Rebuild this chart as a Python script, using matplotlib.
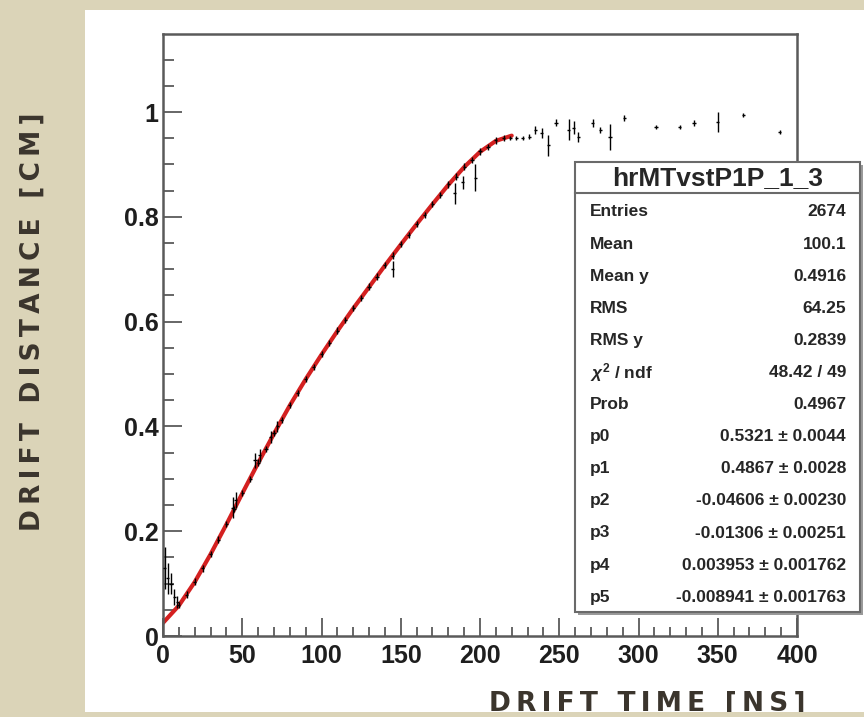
import matplotlib
matplotlib.use("Agg")
import matplotlib.pyplot as plt
from matplotlib.patches import Rectangle
from matplotlib.ticker import MultipleLocator

# profile points along the fitted region (drift time ns, drift distance cm, error)
t_main = [10, 15, 20, 25, 30, 35, 40, 45, 50, 55, 60, 65, 70, 75, 80, 85, 90, 95,
          100, 105, 110, 115, 120, 125, 130, 135, 140, 145, 150, 155, 160, 165,
          170, 175, 180, 185, 190, 195, 200, 205, 210, 215]
d_main = [0.059, 0.079, 0.104, 0.129, 0.157, 0.184, 0.214, 0.242, 0.273, 0.300,
          0.331, 0.357, 0.387, 0.412, 0.441, 0.464, 0.491, 0.513, 0.538, 0.559,
          0.583, 0.603, 0.626, 0.645, 0.667, 0.686, 0.708, 0.726, 0.748, 0.765,
          0.787, 0.804, 0.825, 0.842, 0.862, 0.877, 0.896, 0.909, 0.925, 0.934,
          0.946, 0.950]
e_main = [0.006] * len(t_main)

# scattered points (start region, outliers, plateau)
t_extra = [1, 3, 5, 7, 9, 44, 46, 58, 61, 68, 72, 145, 184, 189, 197,
           219, 223, 227, 231, 235, 239, 243, 248, 256, 259, 262, 271, 276, 282,
           291, 311, 326, 335, 350, 366, 389]
d_extra = [0.13, 0.11, 0.10, 0.075, 0.065, 0.245, 0.26, 0.335, 0.345, 0.38, 0.40,
           0.700, 0.845, 0.866, 0.875,
           0.950, 0.951, 0.950, 0.953, 0.966, 0.960, 0.937, 0.980, 0.966, 0.970,
           0.952, 0.979, 0.966, 0.952,
           0.988, 0.972, 0.972, 0.979, 0.981, 0.994, 0.962]
e_extra = [0.04, 0.03, 0.02, 0.015, 0.012, 0.02, 0.015, 0.015, 0.012, 0.012, 0.01,
           0.015, 0.02, 0.012, 0.025,
           0.004, 0.004, 0.004, 0.005, 0.008, 0.01, 0.02, 0.006, 0.02, 0.012,
           0.01, 0.008, 0.006, 0.025,
           0.006, 0.004, 0.004, 0.006, 0.02, 0.004, 0.004]

# fitted curve
t_fit = [0, 10, 20, 30, 40, 50, 60, 70, 80, 90, 100, 110, 120, 130, 140, 150,
         160, 170, 180, 190, 200, 210, 220]
d_fit = [0.025, 0.058, 0.103, 0.156, 0.213, 0.272, 0.330, 0.386, 0.440, 0.490,
         0.537, 0.582, 0.625, 0.666, 0.707, 0.747, 0.786, 0.824, 0.861, 0.895,
         0.924, 0.945, 0.955]

stat_title = "hrMTvstP1P_1_3"
stat_labels = ["Entries", "Mean", "Mean y", "RMS", "RMS y", r"$\chi^{2}$ / ndf",
               "Prob", "p0", "p1", "p2", "p3", "p4", "p5"]
stat_values = ["2674", "100.1", "0.4916", "64.25", "0.2839", "48.42 / 49", "0.4967",
               "0.5321 \u00b1 0.0044", "0.4867 \u00b1 0.0028",
               "-0.04606 \u00b1 0.00230", "-0.01306 \u00b1 0.00251",
               "0.003953 \u00b1 0.001762", "-0.008941 \u00b1 0.001763"]

W, H = 864, 717
beige = "#dbd4b8"
label_col = "#3b352d"
frame_col = "#5a5a5a"
text_col = "#262626"

plt.rcParams["font.family"] = ["Liberation Sans", "DejaVu Sans"]
plt.rcParams["mathtext.fontset"] = "custom"
plt.rcParams["mathtext.rm"] = "Liberation Sans:bold"
plt.rcParams["mathtext.it"] = "Liberation Sans:italic:bold"

fig = plt.figure(figsize=(W / 100, H / 100), dpi=100, facecolor=beige)

def fx(px):
    return px / W

def fy(py):
    return 1 - py / H

# white slide panel
fig.patches.append(Rectangle((fx(85), fy(712)), fx(864) - fx(85), fy(10) - fy(712),
                             transform=fig.transFigure, facecolor="white",
                             edgecolor="none", zorder=0))

ax = fig.add_axes([fx(163), fy(636), fx(797) - fx(163), fy(34) - fy(636)])
ax.set_zorder(1)

ax.plot(t_fit, d_fit, color="#d42020", lw=3, zorder=2, solid_capstyle="round")
ax.errorbar(t_main, d_main, yerr=e_main, xerr=1, fmt="none", ecolor="black",
            elinewidth=1, zorder=3)
ax.errorbar(t_extra, d_extra, yerr=e_extra, xerr=1, fmt="none", ecolor="black",
            elinewidth=1, zorder=3)

ax.set_xlim(0, 400)
ax.set_ylim(0, 1.149)
ax.xaxis.set_major_locator(MultipleLocator(50))
ax.xaxis.set_minor_locator(MultipleLocator(10))
ax.yaxis.set_minor_locator(MultipleLocator(0.05))
ax.set_yticks([0, 0.2, 0.4, 0.6, 0.8, 1.0])
ax.set_yticklabels(["0", "0.2", "0.4", "0.6", "0.8", "1"])

ax.tick_params(axis="x", which="major", direction="in", length=13, width=1.3,
               color=frame_col, labelsize=18, pad=6)
ax.tick_params(axis="x", which="minor", direction="in", length=6.5, width=1.3,
               color=frame_col)
ax.tick_params(axis="y", which="major", direction="in", length=14, width=1.3,
               color=frame_col, labelsize=18, pad=3)
ax.tick_params(axis="y", which="minor", direction="in", length=8, width=1.3,
               color=frame_col)
for lab in ax.get_xticklabels() + ax.get_yticklabels():
    lab.set_fontweight("bold")
    lab.set_color("#1e1e1e")
for sp in ax.spines.values():
    sp.set_color(frame_col)
    sp.set_linewidth(1.8)

# axis titles on the slide
sp_ = "\u2009"
ylab = sp_.join("DRIFT DISTANCE [CM]")
xlab = sp_.join("DRIFT TIME [NS]")
fig.text(fx(33), fy(322), ylab, rotation=90, ha="center", va="center",
         family="DejaVu Sans", fontweight="bold", fontsize=19, color=label_col,
         zorder=3)
fig.text(fx(647), fy(704), xlab, ha="center", va="center",
         family="DejaVu Sans", fontweight="bold", fontsize=19, color=label_col,
         zorder=3)
# bottom strip of slide background clips the label
fig.patches.append(Rectangle((0, 0), 1, fy(712), transform=fig.transFigure,
                             facecolor=beige, edgecolor="none", zorder=6))

# stats box
bx0, bx1, by0, by1 = 575, 860, 162, 612
fig.patches.append(Rectangle((fx(bx0 + 3), fy(by1 + 3)), fx(bx1) - fx(bx0),
                             fy(by0) - fy(by1), transform=fig.transFigure,
                             facecolor="#9a9a9a", edgecolor="none", zorder=7))
fig.patches.append(Rectangle((fx(bx0), fy(by1)), fx(bx1) - fx(bx0),
                             fy(by0) - fy(by1), transform=fig.transFigure,
                             facecolor="white", edgecolor="#6a6a6a", lw=1.5,
                             zorder=8))
fig.lines.append(plt.Line2D([fx(bx0), fx(bx1)], [fy(193), fy(193)],
                            transform=fig.transFigure, color="#6a6a6a", lw=1.5,
                            zorder=9))
fig.text(fx((bx0 + bx1) / 2), fy(178), stat_title, ha="center", va="center",
         fontsize=19, fontweight="bold", color=text_col, zorder=10)
for i, (lab, val) in enumerate(zip(stat_labels, stat_values)):
    yy = fy(212 + i * 32.1)
    fig.text(fx(590), yy, lab, ha="left", va="center", fontsize=12.5,
             fontweight="bold", color=text_col, zorder=10)
    fig.text(fx(846), yy, val, ha="right", va="center", fontsize=12.5,
             fontweight="bold", color=text_col, zorder=10)

fig.savefig("out.png", dpi=100, facecolor=beige)
